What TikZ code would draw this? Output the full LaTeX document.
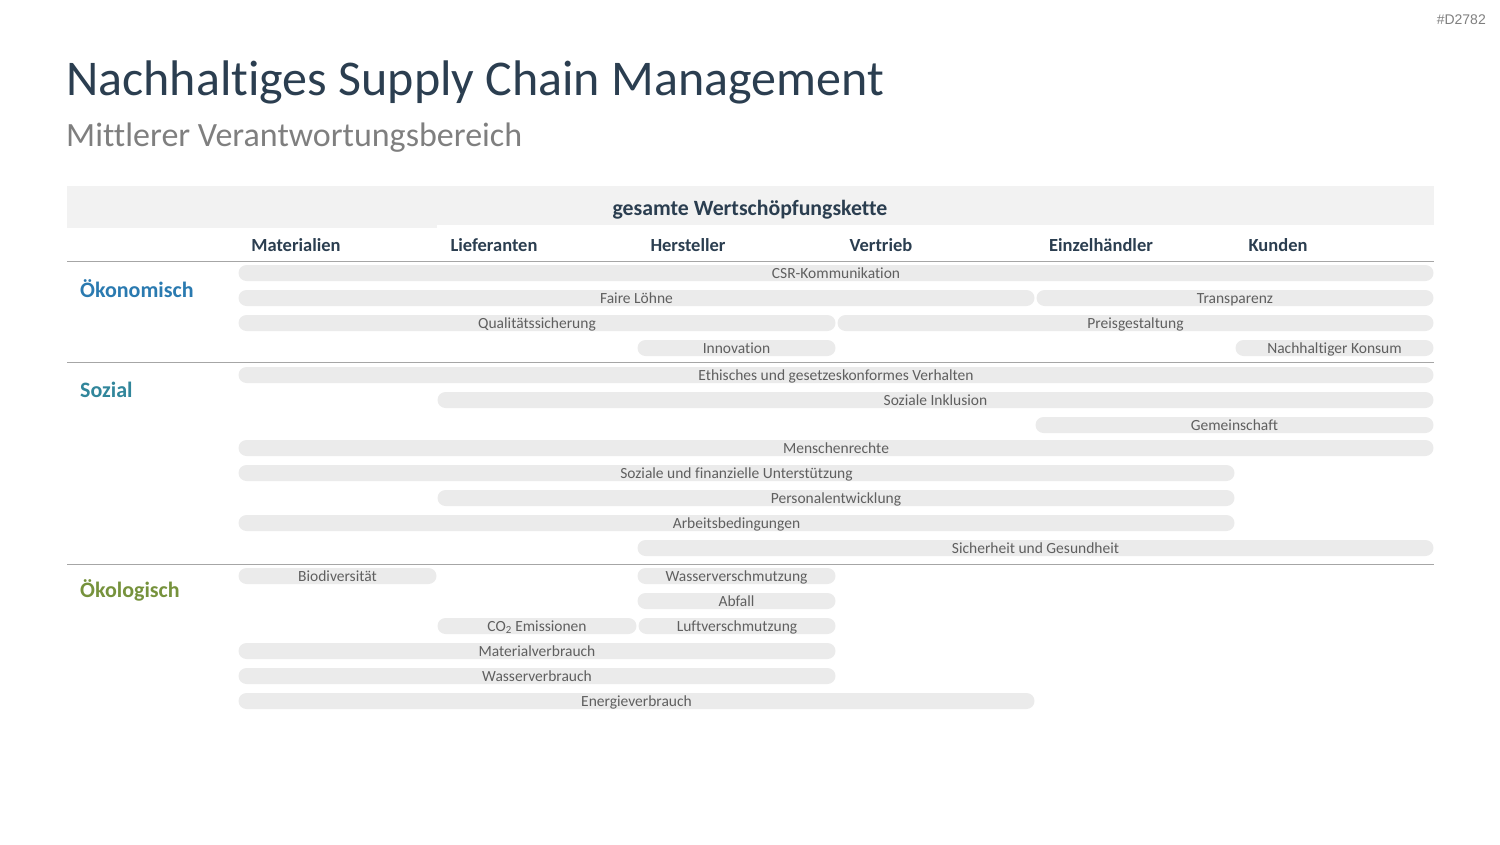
\documentclass[tikz,border=0pt]{standalone}
\usepackage{fontspec}
\setmainfont{Carlito}[Ligatures={NoCommon}]
\newfontfamily\arialf{Liberation Sans}
\definecolor{titlec}{HTML}{2B3E50}
\definecolor{subc}{HTML}{7F7F7F}
\definecolor{bandc}{HTML}{F2F2F2}
\definecolor{barc}{HTML}{EBEBEB}
\definecolor{bartext}{HTML}{5F5F5F}
\definecolor{linec}{HTML}{A6A6A6}
\definecolor{oekc}{HTML}{2A7AB0}
\definecolor{sozc}{HTML}{31869B}
\definecolor{oekoc}{HTML}{76923C}
\newcommand\sbar[5]{\node[barbox, minimum width={#3-#2-1}] (#1) at ({(#2+#3)/2},#4) {#5};}
\begin{document}
\begin{tikzpicture}[x=1pt,y=-1pt,
  barbox/.style={fill=barc, rounded corners=8pt, minimum height=16pt, inner sep=0pt,
    text=bartext, font=\fontsize{15.5}{17}\selectfont, text height=10.5pt, text depth=0.5pt},
  colhead/.style={text=titlec, font=\fontsize{18.5}{21}\selectfont\bfseries, inner sep=0pt},
  cathead/.style={anchor=west, font=\fontsize{22}{25}\selectfont\bfseries, inner sep=0pt},
  sepline/.style={draw=linec, line width=1.8pt}]
\useasboundingbox (0,0) rectangle (1500,844);
% code tag
\node[anchor=east, inner sep=0pt, text=subc, font=\arialf\fontsize{14}{16}\selectfont] (tag) at (1486,19.5) {\#D2782};
% title
\node[anchor=base west, inner sep=0pt, text=titlec, font=\fontsize{50}{54}\selectfont] (title) at (66,95) {Nachhaltiges Supply Chain Management};
\node[anchor=base west, inner sep=0pt, text=subc, font=\fontsize{34}{38}\selectfont] (sub) at (66,146.5) {Mittlerer Verantwortungsbereich};
% header band
\fill[bandc] (67,186) rectangle (1434,225);
\fill[bandc] (67,186) rectangle (437,228);
\node[text=titlec, font=\fontsize{21.8}{25}\selectfont\bfseries, inner sep=0pt] (band) at (750,209.5) {gesamte Wertschöpfungskette};
% column headers
\node[colhead] (c1) at (296,245.5) {Materialien};
\node[colhead] (c2) at (494,245.5) {Lieferanten};
\node[colhead] (c3) at (688,245.5) {Hersteller};
\node[colhead] (c4) at (881,245.5) {Vertrieb};
\node[colhead] (c5) at (1101,245.5) {Einzelhändler};
\node[colhead] (c6) at (1278,245.5) {Kunden};
% separators
\coordinate (l1a) at (67,261.5); \coordinate (l1b) at (1434,261.5);
\coordinate (l2a) at (67,362.5); \coordinate (l2b) at (1434,362.5);
\coordinate (l3a) at (67,564.5); \coordinate (l3b) at (1434,564.5);
\draw[sepline] (l1a) -- (l1b);
\draw[sepline] (l2a) -- (l2b);
\draw[sepline] (l3a) -- (l3b);
% categories
\node[cathead, text=oekc] (k1) at (80,288.5) {Ökonomisch};
\node[cathead, text=sozc] (k2) at (80,389.5) {Sozial};
\node[cathead, text=oekoc] (k3) at (80,590.5) {Ökologisch};
% bars - oekonomisch
\sbar{b1}{238}{1434}{273}{CSR-Kommunikation}
\sbar{b2}{238}{1035}{298}{Faire Löhne}
\sbar{b3}{1036}{1434}{298}{Transparenz}
\sbar{b4}{238}{836}{323}{Qualitätssicherung}
\sbar{b5}{837}{1434}{323}{Preisgestaltung}
\sbar{b6}{637}{836}{348}{Innovation}
\sbar{b7}{1235}{1434}{348}{Nachhaltiger Konsum}
% sozial
\sbar{b8}{238}{1434}{375}{Ethisches und gesetzeskonformes Verhalten}
\sbar{b9}{437}{1434}{400}{Soziale Inklusion}
\sbar{b10}{1035}{1434}{425}{Gemeinschaft}
\sbar{b11}{238}{1434}{448}{Menschenrechte}
\sbar{b12}{238}{1235}{473}{Soziale und finanzielle Unterstützung}
\sbar{b13}{437}{1235}{498}{Personalentwicklung}
\sbar{b14}{238}{1235}{523}{Arbeitsbedingungen}
\sbar{b15}{637}{1434}{548}{Sicherheit und Gesundheit}
% oekologisch
\sbar{b16}{238}{437}{576}{Biodiversität}
\sbar{b17}{637}{836}{576}{Wasserverschmutzung}
\sbar{b18}{637}{836}{601}{Abfall}
\sbar{b19}{437}{637}{626}{CO\textsubscript{2} Emissionen}
\sbar{b20}{638}{836}{626}{Luftverschmutzung}
\sbar{b21}{238}{836}{651}{Materialverbrauch}
\sbar{b22}{238}{836}{676}{Wasserverbrauch}
\sbar{b23}{238}{1035}{701}{Energieverbrauch}
\end{tikzpicture}
\end{document}
